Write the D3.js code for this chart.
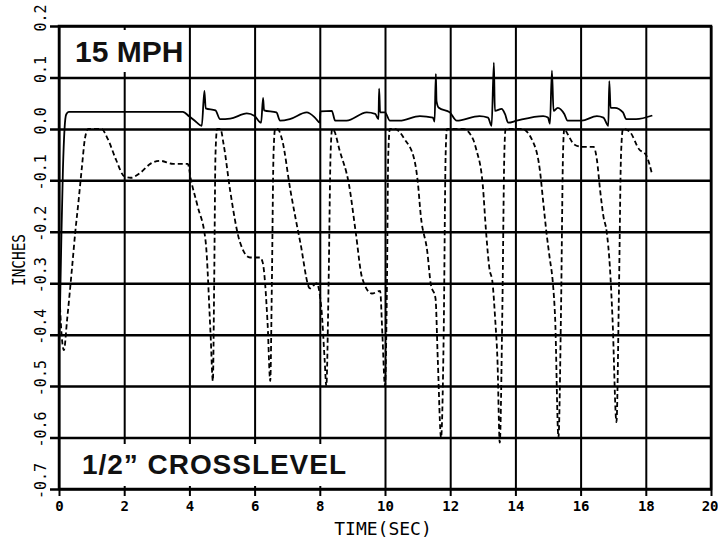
<!DOCTYPE html>
<html><head><meta charset="utf-8">
<script src="https://cdn.jsdelivr.net/npm/d3@7"></script>
<style>body{margin:0;background:#fff}svg{display:block}</style>
</head><body>
<svg id="c" width="718" height="545"></svg>
<script>
// ---- data ----
const xTicks = [0,2,4,6,8,10,12,14,16,18,20];
const yTicks = [0.2,0.1,0.0,-0.1,-0.2,-0.3,-0.4,-0.5,-0.6,-0.7];
const yTickLabels = ["0.2","0.1","0.0","-0.1","-0.2","-0.3","-0.4","-0.5","-0.6","-0.7"];
const solidT = [0,0.03,0.07,0.12,0.17,0.22,0.30,3.80,4.00,4.20,4.38,4.46,4.50,4.80,4.94,5.25,5.76,6.00,6.20,6.26,6.29,6.67,6.78,7.08,7.60,7.85,8.00,8.02,8.37,8.47,8.82,9.44,9.70,9.80,9.82,9.85,10.00,10.15,10.45,11.07,11.47,11.52,11.56,11.58,11.65,11.99,12.20,12.90,13.16,13.27,13.34,13.37,13.58,13.68,13.78,14.04,14.85,15.00,15.06,15.12,15.17,15.30,15.50,15.60,16.03,16.50,16.70,16.85,16.88,16.92,17.05,17.30,17.40,17.70,18.20];
const solidV = [-0.42,-0.35,-0.22,-0.08,0.00,0.028,0.033,0.033,0.024,0.014,0.006,0.074,0.040,0.036,0.019,0.020,0.030,0.025,0.012,0.060,0.036,0.032,0.016,0.019,0.032,0.022,0.012,0.034,0.035,0.016,0.016,0.032,0.029,0.019,0.078,0.032,0.032,0.016,0.016,0.025,0.022,0.014,0.107,0.054,0.041,0.032,0.016,0.025,0.022,0.006,0.129,0.035,0.039,0.029,0.012,0.016,0.025,0.022,0.010,0.113,0.035,0.041,0.029,0.016,0.016,0.025,0.022,0.006,0.093,0.041,0.041,0.032,0.019,0.019,0.026];
const dashT = [0,0.08,0.15,0.25,0.40,0.50,0.60,0.70,0.80,0.90,1.30,1.50,1.75,2.00,2.20,2.50,2.80,3.10,3.50,3.95,4.05,4.25,4.50,4.65,4.72,4.76,4.80,4.85,4.95,5.05,5.25,5.55,5.86,6.17,6.25,6.40,6.48,6.53,6.58,6.63,6.70,6.84,7.10,7.40,7.70,7.90,8.05,8.15,8.20,8.27,8.33,8.38,8.45,8.60,8.90,9.10,9.30,9.60,9.85,9.92,10.00,10.06,10.10,10.15,10.30,10.60,10.90,11.00,11.10,11.30,11.40,11.55,11.62,11.72,11.80,11.86,11.90,12.40,12.70,12.80,13.00,13.10,13.20,13.30,13.38,13.45,13.52,13.60,13.66,13.70,14.20,14.50,14.75,14.85,14.95,15.05,15.15,15.22,15.32,15.40,15.46,15.50,15.60,15.80,16.05,16.40,16.50,16.60,16.70,16.80,16.90,16.98,17.10,17.18,17.24,17.30,17.50,17.80,18.00,18.20];
const dashV = [-0.30,-0.40,-0.43,-0.37,-0.27,-0.20,-0.14,-0.076,-0.017,0.0,0.0,-0.02,-0.06,-0.092,-0.095,-0.085,-0.068,-0.062,-0.068,-0.068,-0.10,-0.15,-0.22,-0.40,-0.49,-0.30,-0.05,0.0,0.0,-0.03,-0.12,-0.22,-0.25,-0.25,-0.26,-0.38,-0.49,-0.30,-0.05,0.0,0.0,-0.02,-0.12,-0.22,-0.31,-0.30,-0.35,-0.45,-0.50,-0.30,-0.05,0.0,-0.005,-0.04,-0.11,-0.20,-0.29,-0.32,-0.315,-0.40,-0.50,-0.30,-0.05,0.0,0.0,-0.02,-0.06,-0.10,-0.17,-0.24,-0.30,-0.33,-0.45,-0.60,-0.40,-0.05,0.0,0.0,-0.02,-0.04,-0.11,-0.20,-0.27,-0.30,-0.37,-0.45,-0.61,-0.35,-0.05,0.0,0.0,-0.02,-0.08,-0.14,-0.20,-0.25,-0.30,-0.37,-0.60,-0.35,-0.05,0.0,-0.01,-0.03,-0.035,-0.035,-0.06,-0.12,-0.17,-0.20,-0.27,-0.37,-0.57,-0.30,-0.05,0.0,-0.005,-0.04,-0.05,-0.09];
const title1 = "15 MPH";
const title2 = "1/2\u201D CROSSLEVEL";
const xTitle = "TIME(SEC)";
const yTitle = "INCHES";

// ---- drawing ----
const svg = d3.select("#c");
const L = 59, R = 711, T = 26, B = 489;
const x = d3.scaleLinear().domain([0,20]).range([L,R]);
const y = d3.scaleLinear().domain([-0.7,0.2]).range([B,T]);
const mono = "'DejaVu Sans Mono', monospace";

// vertical grid via axis
const gx = svg.append("g").attr("transform",`translate(0,${B})`)
  .call(d3.axisBottom(x).tickValues(xTicks).tickSize(7).tickFormat(d3.format("d")));
gx.select(".domain").remove();
gx.selectAll(".tick line").attr("y1",7).attr("y2",-(B-T)).attr("stroke","#000").attr("stroke-width",2);
gx.selectAll(".tick text").attr("y",12).attr("dy","0.71em")
  .attr("font-family",mono).attr("font-size",14).attr("font-weight","bold").attr("fill","#000")
  .attr("text-anchor",(d)=> d===20 ? "end" : "middle")
  .attr("x",(d)=> d===20 ? 7 : 0);

// horizontal grid via axis
const gy = svg.append("g").attr("transform",`translate(${L},0)`)
  .call(d3.axisLeft(y).tickValues(yTicks).tickSize(9).tickFormat(""));
gy.select(".domain").remove();
gy.selectAll(".tick line").attr("x1",-9).attr("x2",R-L).attr("stroke","#000").attr("stroke-width",2.5);

// y tick labels rotated
svg.append("g").selectAll("text").data(yTicks).join("text")
  .attr("transform",(d)=>`translate(46,${y(d)-8}) rotate(-90)`)
  .attr("text-anchor","middle")
  .attr("font-family",mono).attr("font-size",15).attr("fill","#000")
  .text((d,i)=>yTickLabels[i]);

// frame
svg.append("rect").attr("x",L).attr("y",T).attr("width",R-L).attr("height",B-T)
  .attr("fill","none").attr("stroke","#000").attr("stroke-width",2.5);

// annotation boxes
svg.append("rect").attr("x",63).attr("y",30).attr("width",124).attr("height",42).attr("fill","#fff");
svg.append("rect").attr("x",63).attr("y",444).attr("width",292).attr("height",42).attr("fill","#fff");
svg.append("text").attr("x",75).attr("y",62).text(title1)
  .attr("font-family","'Liberation Sans', Arial, sans-serif").attr("font-weight","bold")
  .attr("font-size",30).attr("fill","#111");
svg.append("text").attr("x",82).attr("y",474).text(title2)
  .attr("font-family","'Liberation Sans', Arial, sans-serif").attr("font-weight","bold")
  .attr("font-size",28).attr("textLength",264).attr("lengthAdjust","spacing").attr("fill","#111");

// axis titles
svg.append("text").attr("x",383).attr("y",535).attr("text-anchor","middle")
  .attr("font-family",mono).attr("font-size",18).attr("fill","#000").text(xTitle);
svg.append("text").attr("transform","translate(25,260) rotate(-90)").attr("text-anchor","middle")
  .attr("font-family",mono).attr("font-size",18).attr("textLength",52).attr("lengthAdjust","spacingAndGlyphs")
  .attr("fill","#000").text(yTitle);

// series
const line = d3.line().x(d=>x(d[0])).y(d=>y(d[1])).curve(d3.curveMonotoneX);
svg.append("path").datum(dashT.map((t,i)=>[t,dashV[i]]))
  .attr("d",line).attr("fill","none").attr("stroke","#000").attr("stroke-width",1.8)
  .attr("stroke-dasharray","5,3");
svg.append("path").datum(solidT.map((t,i)=>[t,solidV[i]]))
  .attr("d",line).attr("fill","none").attr("stroke","#000").attr("stroke-width",1.8);
</script>
</body></html>
